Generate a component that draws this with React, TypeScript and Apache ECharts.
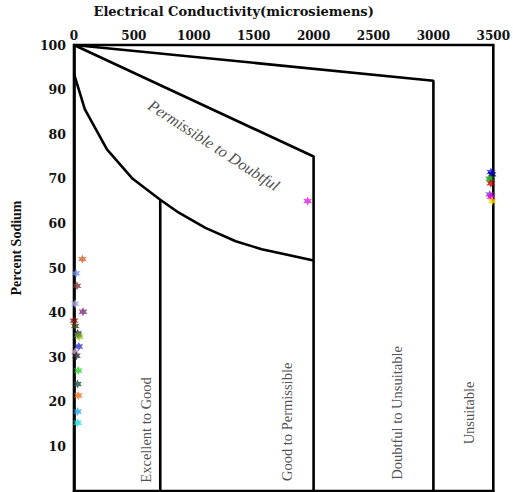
import React, { useEffect, useRef } from "react";
import * as echarts from "echarts";

const xTicks = [0, 500, 1000, 1500, 2000, 2500, 3000, 3500];
const upperLine = [[0, 100], [3000, 92], [3000, 0]];
const middleLine = [[0, 100], [2000, 75], [2000, 0]];
const lowerCurve = [[0, 93.5], [90, 85.6], [275, 76.6], [490, 70], [720, 65.3], [875, 62.4], [1097, 59], [1350, 56], [1567, 54.2], [2000, 51.7]];
const excellentLine = [[720, 65.3], [720, 0]];

const samplePoints: [number, number, string][] = [
  [70, 52, "#d2622a"],
  [17, 48.8, "#6f8fe6"],
  [25, 46, "#7a3a3a"],
  [10, 42, "#a9a9f0"],
  [75, 40.2, "#7a2a7e"],
  [0, 38.2, "#8b1010"],
  [10, 37, "#4a4a20"],
  [30, 35.3, "#10106a"],
  [45, 34.6, "#9acd32"],
  [35, 35, "#6b8e23"],
  [40, 32.4, "#3030d0"],
  [10, 31.2, "#c8a0c8"],
  [20, 30.3, "#2a2a2a"],
  [35, 27, "#30d030"],
  [30, 24, "#1f4f4f"],
  [35, 21.4, "#e87020"],
  [30, 17.8, "#20a8e8"],
  [30, 15.3, "#20d8d8"],
  [1950, 65, "#e020e0"],
  [3480, 71.5, "#1010ff"],
  [3490, 71, "#000080"],
  [3470, 70, "#00a000"],
  [3480, 69, "#c00000"],
  [3470, 66.5, "#8040c0"],
  [3480, 66, "#e000e0"],
  [3490, 65, "#ffd700"],
];

const zoneLabels: [number, number, string, number][] = [
  [1167, 77.5, "Permissible to Doubtful", -33],
  [600, 13.7, "Excellent to Good", 90],
  [1775, 15.5, "Good to Permissible", 90],
  [2700, 17.5, "Doubtful to Unsuitable", 90],
  [3300, 17.5, "Unsuitable", 90],
];

const STAR = "path://M10 0 L12.5 5.67 L18.66 5 L15 10 L18.66 15 L12.5 14.33 L10 20 L7.5 14.33 L1.34 15 L5 10 L1.34 5 L7.5 5.67 Z";
const SERIF = "'Liberation Serif', 'DejaVu Serif', serif";
const WIDE_SERIF = "'DejaVu Serif', 'Liberation Serif', serif";

export default function App() {
  const ref = useRef<HTMLDivElement>(null);
  useEffect(() => {
    if (!ref.current) return;
    const chart = echarts.init(ref.current, undefined, { renderer: "svg" });
    const lineStyle = { color: "#000", width: 2.6 };
    const mkLine = (data: number[][]) => ({
      type: "line",
      data,
      symbol: "none",
      lineStyle,
      silent: true,
      z: 3,
    });
    chart.setOption({
      animation: false,
      backgroundColor: "#fff",
      grid: { left: 74, right: 19, top: 43, bottom: 1, show: true, borderColor: "#000", borderWidth: 2.6, backgroundColor: "transparent" },
      xAxis: {
        type: "value",
        position: "top",
        min: xTicks[0],
        max: xTicks[xTicks.length - 1],
        interval: 500,
        name: "Electrical Conductivity(microsiemens)",
        nameLocation: "middle",
        nameGap: 27,
        nameTextStyle: { fontFamily: WIDE_SERIF, fontWeight: "bold", fontSize: 13, color: "#111", padding: [0, 100, 0, 0] },
        axisLine: { show: true, lineStyle: { color: "#000", width: 2.6 } },
        axisTick: { show: false },
        splitLine: { show: false },
        axisLabel: { fontFamily: WIDE_SERIF, fontWeight: "bold", fontSize: 12, color: "#111", margin: 3, formatter: (v: number) => String(v) },
      },
      yAxis: {
        type: "value",
        min: 0,
        max: 100,
        interval: 10,
        name: "Percent Sodium",
        nameLocation: "middle",
        nameGap: 51,
        nameTextStyle: { fontFamily: SERIF, fontWeight: "bold", fontSize: 14, color: "#111", padding: [0, 0, 0, 40] },
        axisLine: { show: true, lineStyle: { color: "#000", width: 2.6 } },
        axisTick: { show: false },
        splitLine: { show: false },
        axisLabel: {
          fontFamily: WIDE_SERIF,
          fontWeight: "bold",
          fontSize: 12.5,
          color: "#111",
          margin: 8,
          formatter: (v: number) => (v === 0 ? "" : String(v)),
        },
      },
      series: [
        mkLine(upperLine),
        mkLine(middleLine),
        mkLine(lowerCurve),
        mkLine(excellentLine),
        {
          type: "scatter",
          data: zoneLabels.map((d) => ({
            value: [d[0], d[1]],
            label: {
              show: true,
              formatter: d[2],
              rotate: d[3],
              position: "inside",
              fontFamily: SERIF,
              fontStyle: d[3] < 0 ? "italic" : "normal",
              fontSize: d[3] < 0 ? 16 : 14.5,
              color: "#222",
            },
          })),
          symbolSize: 0,
          silent: true,
          z: 4,
        },
        {
          type: "scatter",
          data: samplePoints.map((d) => ({ value: [d[0], d[1]], itemStyle: { color: d[2] } })),
          symbol: STAR,
          symbolSize: 9,
          z: 5,
        },
      ],
    });
    return () => chart.dispose();
  }, []);
  return <div ref={ref} style={{ position: "fixed", left: 0, top: 0, width: 513, height: 492 }} />;
}
